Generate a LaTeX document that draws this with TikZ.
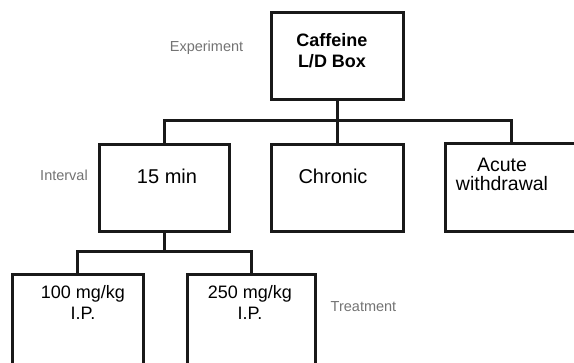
\documentclass[tikz,border=0pt]{standalone}
\usepackage{fontspec}
\setmainfont{Liberation Sans}
\usetikzlibrary{positioning}

\definecolor{lblgray}{RGB}{115,115,115}
\definecolor{boxline}{RGB}{25,25,25}

\tikzset{
	box/.style={draw=boxline, line width=3pt, rectangle, inner sep=0pt},
	txt/.style={inner sep=0pt, align=center},
	lbl/.style={inner sep=0pt, text=lblgray, font=\fontsize{14.5}{16}\selectfont},
	bus/.style={draw=boxline, line width=3pt}
}

\begin{document}
\begin{tikzpicture}[x=1pt,y=-1pt]
\useasboundingbox (0,0) rectangle (574,363);

% boxes
\node[box, minimum width=132pt, minimum height=87pt] (top) at (337,56.5) {};
\node[box, minimum width=130pt, minimum height=87pt] (b1) at (164,188.5) {};
\node[box, minimum width=132pt, minimum height=87pt] (b2) at (337,188.5) {};
\node[box, minimum width=132pt, minimum height=88pt] (b3) at (511,188) {};
\node[box, minimum width=131pt, minimum height=100pt] (bA) at (77.5,325) {};
\node[box, minimum width=128pt, minimum height=100pt] (bB) at (251,325) {};

% texts
\node[txt, font=\fontsize{18}{21}\selectfont\bfseries] (tTop) at (332,51) {Caffeine\\L/D Box};
\node[txt, font=\fontsize{20}{22}\selectfont] (t1) at (167,176) {15 min};
\node[txt, font=\fontsize{20}{22}\selectfont] (t2) at (333,176) {Chronic};
\node[txt, font=\fontsize{19.5}{19}\selectfont] (t3) at (502,174) {Acute\\withdrawal};
\node[txt, font=\fontsize{18}{21}\selectfont] (tA) at (83,302) {100 mg/kg\\I.P.};
\node[txt, font=\fontsize{18}{21}\selectfont] (tB) at (250,302) {250 mg/kg\\I.P.};

% side labels
\node[lbl] (exper) at (206.5,48) {Experiment};
\node[lbl] (inter) at (64,175) {Interval};
\node[lbl] (treat) at (363.5,307) {Treatment};

% connectors
\coordinate (bus1) at (337,121);
\coordinate (bus2) at (164,252);
\draw[bus] (top.south) -- (bus1);
\draw[bus] (b1.north) |- (bus1) -| (b3.north);
\draw[bus] (b2.north) -- (b2.north |- bus1);
\draw[bus] (b1.south) -- (bus2);
\draw[bus] (bA.north) |- (bus2) -| (bB.north);
\end{tikzpicture}
\end{document}
